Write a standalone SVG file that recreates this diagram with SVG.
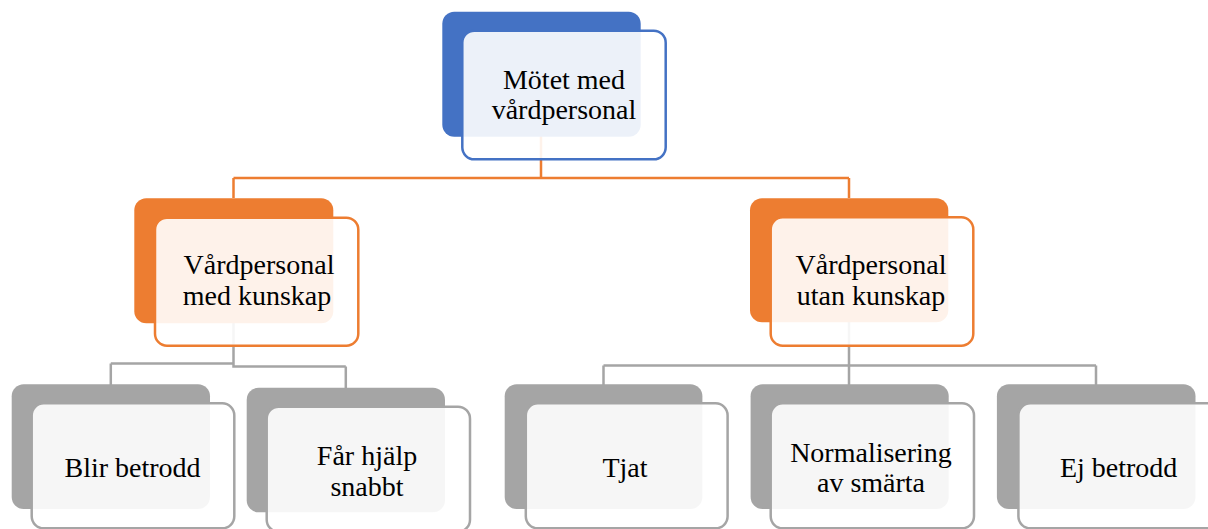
<svg xmlns="http://www.w3.org/2000/svg" width="1208" height="529" viewBox="0 0 1208 529">
<style>
text{font-family:'Liberation Serif','DejaVu Serif',serif;font-size:28px;fill:#000;text-anchor:middle}
.fr{fill:#fff;fill-opacity:0.9;stroke-width:2.5}
.b .bk{fill:#4472C4}.b .fr{stroke:#4472C4}
.o .bk{fill:#ED7D31}.o .fr{stroke:#ED7D31}
.g .bk{fill:#A5A5A5}.g .fr{stroke:#A5A5A5}
.co{fill:none;stroke:#ED7D31;stroke-width:2.5}
.cg{fill:none;stroke:#A5A5A5;stroke-width:2.5}
</style>
<rect width="1208" height="529" fill="#fff"/>
<g id="connectors">
<path class="co" d="M541,136 V178 M233.5,178 H849 M233.5,178 V198 M849,178 V198"/>
<path class="cg" d="M233.5,323 V366.5 M110.8,363.5 H233.5 V366.5 H345.8 M110.8,363.5 V385 M345.8,366.5 V388"/>
<path class="cg" d="M849,322 V385 M603.5,365.5 H1096 M603.5,365.5 V385 M1096,365.5 V385"/>
</g>
<g id="n0" class="b">
<rect class="bk" x="442.3" y="11.7" width="198.4" height="125" rx="12"/>
<rect class="fr" x="462.3" y="30.7" width="203.4" height="128.6" rx="12"/>
<text x="564" y="89" font-family="Liberation Serif, serif">Mötet med</text>
<text x="564" y="119" font-family="Liberation Serif, serif">vårdpersonal</text>
</g>
<g id="n1" class="o">
<rect class="bk" x="134.3" y="198.3" width="199" height="125" rx="12"/>
<rect class="fr" x="155" y="217.7" width="203.3" height="128" rx="12"/>
<text x="259" y="274">Vårdpersonal</text>
<text x="257" y="305">med kunskap</text>
</g>
<g id="n2" class="o">
<rect class="bk" x="750" y="198.3" width="198.3" height="124" rx="12"/>
<rect class="fr" x="770.7" y="217.3" width="202.6" height="128.4" rx="12"/>
<text x="871" y="274">Vårdpersonal</text>
<text x="871" y="305">utan kunskap</text>
</g>
<g id="n3" class="g">
<rect class="bk" x="11.7" y="384.3" width="198.3" height="124.7" rx="12"/>
<rect class="fr" x="31.7" y="403.3" width="202.6" height="125" rx="12"/>
<text x="132.5" y="477">Blir betrodd</text>
</g>
<g id="n4" class="g">
<rect class="bk" x="246.7" y="387.7" width="198.3" height="124.6" rx="12"/>
<rect class="fr" x="266.7" y="406.7" width="203.3" height="125" rx="12"/>
<text x="367" y="465">Får hjälp</text>
<text x="367" y="496">snabbt</text>
</g>
<g id="n5" class="g">
<rect class="bk" x="504.7" y="384.3" width="197.7" height="124.7" rx="12"/>
<rect class="fr" x="525.8" y="403.3" width="201.8" height="125" rx="12"/>
<text x="625" y="477">Tjat</text>
</g>
<g id="n6" class="g">
<rect class="bk" x="750.6" y="384.3" width="198.1" height="124.7" rx="12"/>
<rect class="fr" x="770.7" y="403.3" width="203.3" height="125" rx="12"/>
<text x="871" y="462">Normalisering</text>
<text x="871" y="492">av smärta</text>
</g>
<g id="n7" class="g">
<rect class="bk" x="996.9" y="384.3" width="198.6" height="124.7" rx="12"/>
<rect class="fr" x="1018.4" y="403.3" width="203.3" height="125" rx="12"/>
<text x="1118.6" y="477">Ej betrodd</text>
</g>
</svg>
